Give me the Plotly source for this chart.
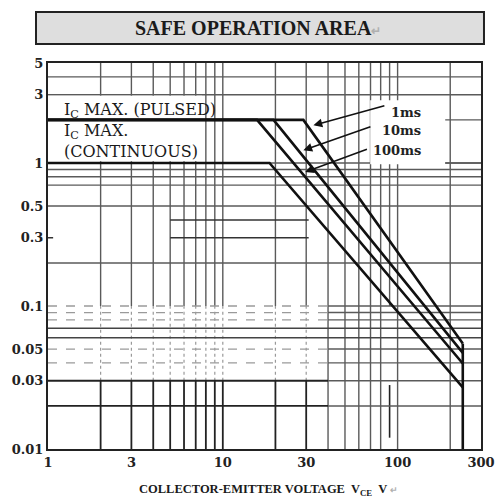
import math
import plotly.graph_objects as go

# ---------------- data ----------------
X_TICKS = [1, 3, 10, 30, 100, 300]
Y_TICKS = [0.01, 0.03, 0.05, 0.1, 0.3, 0.5, 1, 3, 5]

# SOA boundary curves (VCE [V], IC [A])
V_1MS = [1, 28.9, 236]
I_1MS = [2, 2, 0.0546]
V_10MS = [1, 19.5, 236]
I_10MS = [2, 2, 0.047]
V_100MS = [1, 15.7, 236]
I_100MS = [2, 2, 0.0396]
V_DC = [1, 18.5, 236]
I_DC = [1, 1, 0.027]
V_CEO = [236, 236]
I_CEO = [0.0546, 0.01]

# grid values
GRID_V_LOW = [2, 3, 4, 5, 6, 7, 8, 9, 10, 20, 30]
GRID_V_HIGH = [40, 50, 60, 70, 80, 90, 100, 200]
GRID_I_UPPER = [4, 3, 1, 0.9, 0.8, 0.7, 0.5, 0.2]
GRID_I_PARTIAL = [0.4, 0.3]
GRID_I_DASHED = [0.1, 0.09, 0.08, 0.05, 0.04]
GRID_I_MIXED = [0.07, 0.06]
GRID_I_LOWER = [0.03, 0.02]

# label texts
PULSE_LABELS = ["1ms", "10ms", "100ms"]
LABEL_I = [2.27, 1.69, 1.227]
ARROW_TAIL_V = [85.7, 71.3, 68.1]
ARROW_TAIL_I = [2.53, 1.806, 1.26]
ARROW_TIP_V = [33.0, 28.9, 29.6]
ARROW_TIP_I = [1.835, 1.227, 0.865]

XMIN, XMAX = 1, 300
YMIN, YMAX = 0.01, 5

fig = go.Figure()


def seg_trace(xs, ys, color, width, dash="solid"):
    fig.add_trace(go.Scatter(x=xs, y=ys, mode="lines", hoverinfo="skip",
                             line=dict(color=color, width=width, dash=dash),
                             showlegend=False))


def vlines(vals, y0, y1, color, width, dash="solid"):
    xs, ys = [], []
    for v in vals:
        xs += [v, v, None]
        ys += [y0, y1, None]
    seg_trace(xs, ys, color, width, dash)


def hlines(vals, x0, x1, color, width, dash="solid"):
    xs, ys = [], []
    for v in vals:
        xs += [x0, x1, None]
        ys += [v, v, None]
    seg_trace(xs, ys, color, width, dash)


GRID = "#5a5a5a"
LIGHT = "#9a9a9a"

# vertical grid
vlines(GRID_V_LOW, 0.1, YMAX, GRID, 1.4)
vlines(GRID_V_LOW, 0.03, 0.1, LIGHT, 1.2, "dot")
vlines(GRID_V_LOW, YMIN, 0.03, "#222", 1.8)
vlines([v for v in GRID_V_HIGH if v != 90], YMIN, YMAX, GRID, 1.4)
vlines([90], 0.1, YMAX, GRID, 1.4)
vlines([90], 0.012, 0.028, "#222", 1.6)

# horizontal grid
hlines(GRID_I_UPPER, XMIN, XMAX, GRID, 1.4)
hlines(GRID_I_PARTIAL, 5, 31, "#333", 1.5)
hlines([0.3], XMIN, 1.07, "#333", 1.5)
hlines(GRID_I_DASHED, XMIN, 40, LIGHT, 1.3, "dash")
hlines(GRID_I_DASHED, 40, XMAX, GRID, 1.4)
hlines(GRID_I_MIXED, XMIN, XMAX, "#444", 1.5)
hlines(GRID_I_LOWER, XMIN, 40, "#222", 1.8)
hlines(GRID_I_LOWER, 40, XMAX, GRID, 1.4)
hlines([2, 1], 187, XMAX, GRID, 1.4)

# white backgrounds behind the labels
fig.add_trace(go.Scatter(x=[1, 7.6, 7.6, 1, 1], y=[1.03, 1.03, 2.95, 2.95, 1.03],
                         fill="toself", fillcolor="white", mode="none",
                         hoverinfo="skip", showlegend=False))
fig.add_trace(go.Scatter(x=[69.7, 187, 187, 69.7, 69.7], y=[0.98, 0.98, 2.75, 2.75, 0.98],
                         fill="toself", fillcolor="white", mode="none",
                         hoverinfo="skip", showlegend=False))

# SOA curves
for vx, iy in [(V_1MS, I_1MS), (V_10MS, I_10MS), (V_100MS, I_100MS), (V_DC, I_DC), (V_CEO, I_CEO)]:
    seg_trace(vx, iy, "#111", 2.6)

L = math.log10
annos = []
IC_FONT = dict(family="DejaVu Serif", size=16, color="#1a1a1a")
# IC labels
annos.append(dict(x=L(1.2), y=L(2.34), xref="x", yref="y", showarrow=False,
                  xanchor="left", yanchor="middle",
                  text="I<sub>C</sub> MAX. (PULSED)", font=IC_FONT))
annos.append(dict(x=L(1.2), y=0.2168, xref="x", yref="y", showarrow=False,
                  xanchor="left", yanchor="middle",
                  text="I<sub>C</sub> MAX.", font=IC_FONT))
annos.append(dict(x=L(1.2), y=0.0769, xref="x", yref="y", showarrow=False,
                  xanchor="left", yanchor="middle",
                  text="(CONTINUOUS)", font=IC_FONT))
# pulse width labels + arrows
for t, li, tv, ti, hv, hi in zip(PULSE_LABELS, LABEL_I, ARROW_TAIL_V, ARROW_TAIL_I,
                                 ARROW_TIP_V, ARROW_TIP_I):
    annos.append(dict(x=L(140.2), y=L(li), xref="x", yref="y", showarrow=False,
                      xanchor="right", yanchor="middle", text=t,
                      font=dict(family="DejaVu Serif", size=13, color="#222", weight="bold")))
    annos.append(dict(x=L(hv), y=L(hi), ax=L(tv), ay=L(ti), xref="x", yref="y",
                      axref="x", ayref="y", text="", showarrow=True,
                      arrowhead=2, arrowsize=1.1, arrowwidth=1.6, arrowcolor="#111"))

# title
annos.append(dict(x=0.485, y=1.0907, xref="paper", yref="paper", showarrow=False,
                  xanchor="center", yanchor="middle",
                  text="SAFE OPERATION AREA<span style='color:#b0b0b0;font-size:12px'>↵</span>",
                  font=dict(family="Liberation Serif", size=20, color="#1a1a1a", weight="bold")))
# x axis title
annos.append(dict(x=0.51, y=-0.106, xref="paper", yref="paper", showarrow=False,
                  xanchor="center", yanchor="middle",
                  text="COLLECTOR-EMITTER VOLTAGE  V<sub>CE</sub>  V <span style='color:#b0b0b0;font-size:9px'>↵</span>",
                  font=dict(family="Liberation Serif", size=12.5, color="#1a1a1a", weight="bold")))

fig.update_layout(
    width=497, height=499,
    margin=dict(l=48, r=16, t=63, b=50, autoexpand=False),
    paper_bgcolor="white", plot_bgcolor="white",
    annotations=annos,
    shapes=[dict(type="rect", xref="paper", yref="paper",
                 x0=-0.0277, x1=1.0069, y0=1.0492, y1=1.1321,
                 fillcolor="#dedede", line=dict(color="#222", width=2), layer="below")],
)
fig.update_xaxes(type="log", range=[L(XMIN), L(XMAX)], tickvals=X_TICKS,
                 ticktext=[str(v) for v in X_TICKS], showgrid=False, zeroline=False,
                 automargin=False, ticklabeloverflow="allow",
                 showline=True, mirror=True, linecolor="#222", linewidth=2, ticks="",
                 tickfont=dict(family="DejaVu Serif", size=13, color="#222", weight="bold"))
fig.update_yaxes(type="log", range=[L(YMIN), L(YMAX)], tickvals=Y_TICKS,
                 ticktext=[str(v) for v in Y_TICKS], showgrid=False, zeroline=False,
                 automargin=False, ticklabeloverflow="allow",
                 showline=True, mirror=True, linecolor="#222", linewidth=2, ticks="",
                 tickfont=dict(family="DejaVu Serif", size=13, color="#222", weight="bold"))

# remove the page's default body margin so the 497x499 figure fills the window
fig.write_html("out.html", config={"displayModeBar": False},
               post_script="document.body.style.margin='0';document.body.style.overflow='hidden';")
